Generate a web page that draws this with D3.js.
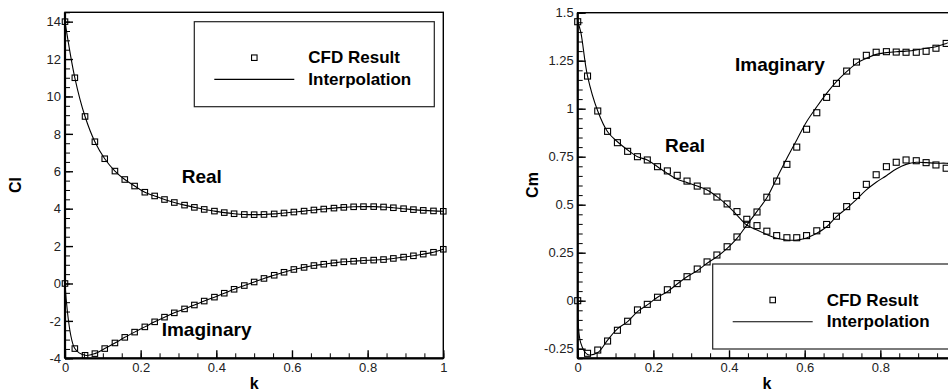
<!DOCTYPE html>
<html><head><meta charset="utf-8">
<script src="https://cdn.jsdelivr.net/npm/d3@7/dist/d3.min.js"></script>
<style>html,body{margin:0;padding:0;background:#fff;overflow:hidden}</style>
</head><body><svg id="c" width="948" height="391"></svg>
<script>
// reduced frequency grid (CFD samples)
const kValues = [0, 0.026, 0.053, 0.079, 0.105, 0.132, 0.158, 0.184, 0.211, 0.237, 0.263, 0.289, 0.316, 0.342, 0.368, 0.395, 0.421, 0.447, 0.474, 0.5, 0.526, 0.553, 0.579, 0.605, 0.632, 0.658, 0.684, 0.711, 0.737, 0.763, 0.789, 0.816, 0.842, 0.868, 0.895, 0.921, 0.947, 0.974, 1];

// Cl panel (CFD points; interpolation passes through them)
const clReal = [14.0, 11.0, 8.93, 7.58, 6.67, 6.01, 5.56, 5.21, 4.88, 4.68, 4.49, 4.33, 4.19, 4.07, 3.96, 3.87, 3.79, 3.73, 3.69, 3.68, 3.69, 3.72, 3.77, 3.82, 3.87, 3.93, 3.98, 4.03, 4.07, 4.10, 4.11, 4.11, 4.09, 4.05, 4.00, 3.95, 3.91, 3.88, 3.86];
const clImag = [0, -3.48, -3.84, -3.75, -3.48, -3.18, -2.88, -2.60, -2.32, -2.05, -1.80, -1.57, -1.36, -1.15, -0.94, -0.73, -0.52, -0.31, -0.11, 0.08, 0.27, 0.44, 0.60, 0.75, 0.86, 0.96, 1.03, 1.10, 1.16, 1.19, 1.23, 1.25, 1.28, 1.34, 1.41, 1.48, 1.57, 1.67, 1.83];

// Cm panel CFD points
const cmReal = [1.453, 1.170, 0.988, 0.882, 0.823, 0.778, 0.750, 0.733, 0.698, 0.676, 0.653, 0.623, 0.597, 0.571, 0.540, 0.504, 0.464, 0.424, 0.391, 0.362, 0.339, 0.328, 0.328, 0.339, 0.364, 0.397, 0.440, 0.490, 0.548, 0.606, 0.656, 0.698, 0.721, 0.733, 0.729, 0.719, 0.707, 0.690, 0.68];
const cmImag = [0, -0.274, -0.257, -0.210, -0.154, -0.107, -0.048, -0.019, 0.018, 0.057, 0.089, 0.125, 0.165, 0.202, 0.238, 0.281, 0.332, 0.398, 0.462, 0.539, 0.623, 0.710, 0.800, 0.893, 0.979, 1.059, 1.132, 1.196, 1.243, 1.278, 1.294, 1.297, 1.295, 1.294, 1.294, 1.299, 1.315, 1.340, 1.36];

// Cm panel interpolation curves
const kInterpCm = [0, 0.008, 0.026, 0.053, 0.079, 0.105, 0.132, 0.158, 0.184, 0.211, 0.237, 0.263, 0.289, 0.316, 0.342, 0.368, 0.395, 0.421, 0.447, 0.474, 0.5, 0.526, 0.553, 0.579, 0.605, 0.632, 0.658, 0.684, 0.711, 0.737, 0.763, 0.789, 0.816, 0.842, 0.868, 0.895, 0.921, 0.947, 0.974, 1];
const cmRealInterp = [1.453, 1.40, 1.170, 0.988, 0.880, 0.828, 0.785, 0.750, 0.733, 0.698, 0.663, 0.632, 0.615, 0.597, 0.577, 0.542, 0.498, 0.446, 0.394, 0.368, 0.345, 0.325, 0.316, 0.316, 0.327, 0.351, 0.385, 0.438, 0.481, 0.528, 0.577, 0.617, 0.651, 0.686, 0.710, 0.721, 0.719, 0.716, 0.716, 0.71];
const cmImagInterp = [0, -0.22, -0.28, -0.27, -0.205, -0.147, -0.109, -0.057, -0.022, 0.018, 0.047, 0.087, 0.125, 0.156, 0.195, 0.229, 0.273, 0.325, 0.394, 0.465, 0.536, 0.637, 0.742, 0.837, 0.932, 1.01, 1.08, 1.141, 1.193, 1.236, 1.262, 1.283, 1.292, 1.297, 1.30, 1.306, 1.315, 1.323, 1.34, 1.36];

// axis ticks
const xTicks = [0, 0.2, 0.4, 0.6, 0.8, 1];
const xTickLabels = ["0", "0.2", "0.4", "0.6", "0.8", "1"];
const xTickLabelsCm = ["0", "0.2", "0.4", "0.6", "0.8", ""]; // "1" falls outside the picture
const clTicks = [-4, -2, 0, 2, 4, 6, 8, 10, 12, 14];
const cmTicks = [-0.25, 0, 0.25, 0.5, 0.75, 1, 1.25, 1.5];
const cmTickLabels = ["-0.25", "0", "0.25", "0.5", "0.75", "1", "1.25", "1.5"];
const legendLabels = ["CFD Result", "Interpolation"];

const svg = d3.select('#c');
const FONT = "'Liberation Sans', Arial, Helvetica, sans-serif";

function drawPanel(o) {
  const x = d3.scaleLinear().domain([0, 1]).range(o.xr);
  const y = d3.scaleLinear().domain(o.yd).range(o.yr);
  const g = svg.append('g');
  const clipId = 'clip' + o.id;
  svg.append('defs').append('clipPath').attr('id', clipId)
    .append('rect').attr('x', o.xr[0]).attr('y', o.yr[1])
    .attr('width', o.xr[1] - o.xr[0]).attr('height', o.yr[0] - o.yr[1]);

  // frame
  g.append('rect').attr('x', o.xr[0]).attr('y', o.yr[1])
    .attr('width', o.xr[1] - o.xr[0]).attr('height', o.yr[0] - o.yr[1])
    .attr('fill', 'none').attr('stroke', '#000').attr('stroke-width', 1.4);

  // minor ticks
  const xMinor = d3.range(0, 1.0001, 0.05).map(v => +v.toFixed(2));
  g.append('g').attr('transform', `translate(0,${o.yr[0]})`)
    .call(d3.axisBottom(x).tickValues(xMinor).tickSize(-5).tickFormat(''))
    .call(a => a.select('.domain').remove());
  g.append('g').attr('transform', `translate(${o.xr[0]},0)`)
    .call(d3.axisLeft(y).tickValues(o.yMinor).tickSize(-5).tickFormat(''))
    .call(a => a.select('.domain').remove());
  // major ticks
  const xa = g.append('g').attr('transform', `translate(0,${o.yr[0]})`)
    .call(d3.axisBottom(x).tickValues(xTicks).tickSize(-8).tickPadding(4.5)
      .tickFormat((d, i) => o.xLabels[i]))
    .call(a => a.select('.domain').remove());
  const ya = g.append('g').attr('transform', `translate(${o.xr[0]},0)`)
    .call(d3.axisLeft(y).tickValues(o.yTicks).tickSize(-8).tickPadding(4)
      .tickFormat((d, i) => o.yLabels[i]))
    .call(a => a.select('.domain').remove());
  [xa, ya].forEach(a => {
    a.selectAll('text').attr('font-family', FONT).attr('font-size', 13).attr('fill', '#222');
    a.selectAll('line').attr('stroke', '#000').attr('stroke-width', 1.4);
  });
  g.selectAll('.tick line').attr('stroke', '#000');

  // axis lines (thicker)
  g.append('line').attr('x1', o.xr[0]).attr('x2', o.xr[1]).attr('y1', o.yr[0]).attr('y2', o.yr[0])
    .attr('stroke', '#000').attr('stroke-width', 2.2);
  g.append('line').attr('x1', o.xr[0]).attr('x2', o.xr[0]).attr('y1', o.yr[0]).attr('y2', o.yr[1])
    .attr('stroke', '#000').attr('stroke-width', 2.2);

  // interpolation lines
  const line = d3.line().x(d => x(d[0])).y(d => y(d[1])).curve(d3.curveCatmullRom.alpha(0.5));
  const cg = g.append('g').attr('clip-path', `url(#${clipId})`);
  o.curves.forEach(c => {
    cg.append('path').datum(c.k.map((kv, i) => [kv, c.v[i]]))
      .attr('d', line).attr('fill', 'none').attr('stroke', '#000').attr('stroke-width', 1.1);
  });

  // CFD markers
  const s = o.ms;
  o.points.forEach(arr => {
    g.append('g').selectAll('rect').data(kValues.map((kv, i) => [kv, arr[i]])).join('rect')
      .attr('x', d => x(d[0]) - s / 2).attr('y', d => y(d[1]) - s / 2)
      .attr('width', s).attr('height', s)
      .attr('fill', 'none').attr('stroke', '#000').attr('stroke-width', 1.1);
  });

  // curve labels
  o.labels.forEach(l => {
    g.append('text').attr('x', l.x).attr('y', l.y).text(l.t)
      .attr('font-family', FONT).attr('font-weight', 'bold').attr('font-size', 19).attr('fill', '#000');
  });

  // legend
  const lg = g.append('g').attr('transform', `translate(${o.leg[0]},${o.leg[1]})`);
  lg.append('rect').attr('x', 0).attr('y', 0).attr('width', 240).attr('height', 85)
    .attr('fill', '#fff').attr('stroke', '#222').attr('stroke-width', 1.2);
  lg.append('rect').attr('x', 60 - 2.75).attr('y', 36 - 2.75).attr('width', 5.5).attr('height', 5.5)
    .attr('fill', 'none').attr('stroke', '#000').attr('stroke-width', 1.1);
  lg.append('line').attr('x1', 20).attr('x2', 100).attr('y1', 57.7).attr('y2', 57.7)
    .attr('stroke', '#000').attr('stroke-width', 1.1);
  legendLabels.forEach((t, i) => {
    lg.append('text').attr('x', 114).attr('y', i ? 63 : 41.5).text(t)
      .attr('font-family', FONT).attr('font-weight', 'bold').attr('font-size', 17).attr('fill', '#000');
  });

  // axis titles
  svg.append('text').attr('x', (o.xr[0] + o.xr[1]) / 2).attr('y', 389).text('k')
    .attr('text-anchor', 'middle').attr('font-family', FONT).attr('font-weight', 'bold')
    .attr('font-size', 16).attr('fill', '#000');
  svg.append('text').attr('transform', `translate(${o.ytX},185) rotate(-90)`).text(o.yTitle)
    .attr('text-anchor', 'middle').attr('font-family', FONT).attr('font-weight', 'bold')
    .attr('font-size', 16).attr('fill', '#000');
}

drawPanel({
  id: 'L', xr: [65, 443.3], yr: [358.3, 12.3], yd: [-4, 14.5],
  xLabels: xTickLabels,
  yTicks: clTicks, yLabels: clTicks.map(String),
  yMinor: d3.range(-4, 14.5001, 0.5).map(v => +v.toFixed(2)),
  curves: [{k: kValues, v: clReal}, {k: kValues, v: clImag}],
  points: [clReal, clImag], ms: 5.5,
  labels: [{x: 181.7, y: 183, t: 'Real'}, {x: 161.7, y: 335.5, t: 'Imaginary'}],
  leg: [194.3, 21.7], yTitle: 'Cl', ytX: 21
});
drawPanel({
  id: 'R', xr: [577.7, 956], yr: [358.3, 12.7], yd: [-0.3, 1.5],
  xLabels: xTickLabelsCm,
  yTicks: cmTicks, yLabels: cmTickLabels,
  yMinor: d3.range(-0.3, 1.5001, 0.05).map(v => +v.toFixed(2)),
  curves: [{k: kInterpCm, v: cmRealInterp}, {k: kInterpCm, v: cmImagInterp}],
  points: [cmReal, cmImag], ms: 6,
  labels: [{x: 665, y: 152, t: 'Real'}, {x: 735, y: 71, t: 'Imaginary'}],
  leg: [712.7, 264], yTitle: 'Cm', ytX: 538
});
</script></body></html>
